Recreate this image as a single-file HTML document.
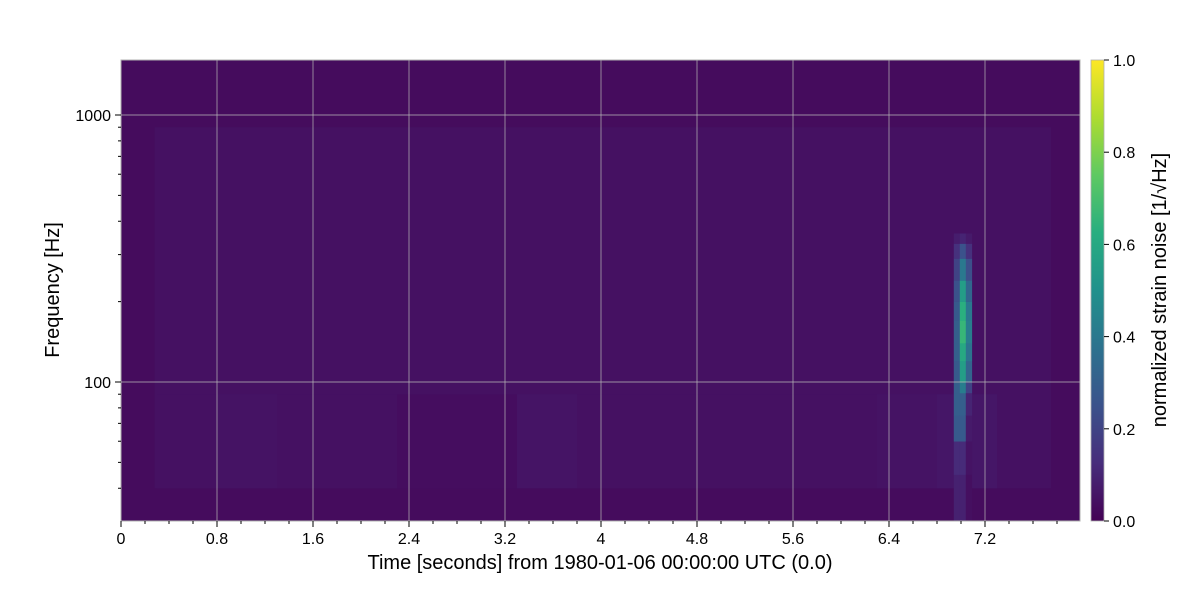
<!DOCTYPE html>
<html><head><meta charset="utf-8"><style>
body{margin:0;background:#fff;}
svg{display:block;font-family:"Liberation Sans",sans-serif;}
</style></head><body>
<svg id="chart" width="1200" height="600" viewBox="0 0 1200 600">
<defs>
<linearGradient id="vir" x1="0" y1="1" x2="0" y2="0">
<stop offset="0" stop-color="#440154"/><stop offset="0.125" stop-color="#472d7b"/><stop offset="0.25" stop-color="#3b528b"/><stop offset="0.375" stop-color="#2c728e"/><stop offset="0.5" stop-color="#21918c"/><stop offset="0.625" stop-color="#28ae80"/><stop offset="0.75" stop-color="#5ec962"/><stop offset="0.875" stop-color="#addc30"/><stop offset="1" stop-color="#fde725"/>
</linearGradient>
<clipPath id="clip"><rect x="121" y="60" width="959" height="461"/></clipPath>
</defs>
<g id="heat" clip-path="url(#clip)"></g>
<g id="grid"></g>
<rect x="121" y="60" width="959" height="461" fill="none" stroke="#b0b0b0" stroke-width="1"/>
<g id="axes"></g>
<text x="600" y="569" text-anchor="middle" font-size="20" fill="#000">Time [seconds] from 1980-01-06 00:00:00 UTC (0.0)</text>
<text transform="translate(59,290) rotate(-90)" text-anchor="middle" font-size="20" fill="#000">Frequency [Hz]</text>
<rect x="1091" y="60" width="13" height="461" fill="url(#vir)" stroke="#b0b0b0" stroke-width="0.8"/>
<g id="cbar"></g>
<text transform="translate(1166,290) rotate(-90)" text-anchor="middle" font-size="20" fill="#000">normalized strain noise [1/√Hz]</text>
</svg>
<script>
const xTicks=[0,0.8,1.6,2.4,3.2,4,4.8,5.6,6.4,7.2];
const xTickLabels=["0","0.8","1.6","2.4","3.2","4","4.8","5.6","6.4","7.2"];
const yTicks=[100,1000];
const yTickLabels=["100","1000"];
const cTicks=[0,0.2,0.4,0.6,0.8,1.0];
const cTickLabels=["0.0","0.2","0.4","0.6","0.8","1.0"];
// low-frequency band (40-90 Hz) level per 0.5 s time bin
const lowBandTimes=[0.3,0.8,1.3,1.8,2.3,2.8,3.3,3.8,4.3,4.8,5.3,5.8,6.3,6.8];
const lowBandValues=[0.045,0.05,0.045,0.045,0.035,0.035,0.055,0.045,0.045,0.045,0.045,0.045,0.05,0.06];
// spike columns
const spikeTimes=[6.94,6.99,7.04];
const spikeFreqs=[30,45,60,75,91,100,120,140,170,200,240,290,330,360];
const spikeCol0=[0.09,0.12,0.28,0.3,0.3,0.28,0.3,0.3,0.28,0.25,0.2,0.14,0.08];
const spikeCol1=[0.09,0.12,0.28,0.3,0.42,0.55,0.6,0.66,0.63,0.55,0.4,0.25,0.1];
const spikeCol2=[0.04,0.05,0.07,0.1,0.2,0.32,0.38,0.42,0.4,0.33,0.24,0.14,0.07];

const X0=121,PW=960,Ylog=f=>382-(Math.log10(f)-2)*267;
const xs=t=>X0+t*PW/8;
const stops=["#440154","#472d7b","#3b528b","#2c728e","#21918c","#28ae80","#5ec962","#addc30","#fde725"];
function hex(c){return [1,3,5].map(i=>parseInt(c.substr(i,2),16));}
function vir(v){v=Math.max(0,Math.min(1,v));const p=v*8,i=Math.min(7,Math.floor(p)),f=p-i;const a=hex(stops[i]),b=hex(stops[i+1]);return "rgb("+a.map((x,k)=>Math.round(x+(b[k]-x)*f)).join(",")+")";}
const NS="http://www.w3.org/2000/svg";
function el(tag,attrs,parent){const e=document.createElementNS(NS,tag);for(const k in attrs)e.setAttribute(k,attrs[k]);parent.appendChild(e);return e;}
const heat=document.getElementById("heat"),grid=document.getElementById("grid"),axes=document.getElementById("axes"),cbar=document.getElementById("cbar");
let r=el("rect",{x:121,y:60,width:960,height:461,fill:vir(0.03)},heat);


r=el("rect",{x:xs(0.28),y:Ylog(900),width:xs(7.75)-xs(0.28),height:Ylog(40)-Ylog(900),fill:vir(0.045)},heat);


lowBandTimes.forEach((t,i)=>{
 const c=el("rect",{x:xs(t),y:Ylog(90),width:xs(0.5)-xs(0),height:Ylog(40)-Ylog(90),fill:vir(lowBandValues[i])},heat);
 
 
});
[spikeCol0,spikeCol1,spikeCol2].forEach((col,j)=>{
 col.forEach((v,i)=>{
  const c=el("rect",{x:xs(spikeTimes[j]),y:Ylog(spikeFreqs[i+1]),width:xs(0.05)-xs(0)+0.3,height:Ylog(spikeFreqs[i])-Ylog(spikeFreqs[i+1])+0.3,fill:vir(v)},heat);
  
  
 });
});
xTicks.forEach((t,i)=>{
 const x=xs(t);
 if(t>0){const g=el("line",{x1:x,x2:x,y1:60,y2:521,stroke:"#b8b8b8","stroke-width":0.7},grid);}
 el("line",{x1:x,x2:x,y1:521,y2:527,stroke:"#000"},axes);
 const tx=el("text",{x:x,y:544,"text-anchor":"middle","font-size":16},axes);tx.textContent=xTickLabels[i];
 
 
});
for(let t=0.2;t<8;t+=0.2){const x=xs(t);el("line",{x1:x,x2:x,y1:521,y2:524,stroke:"#000"},axes);}
yTicks.forEach((f,i)=>{
 const y=Ylog(f);
 const g=el("line",{x1:121,x2:1080,y1:y,y2:y,stroke:"#b8b8b8","stroke-width":0.7},grid);
 
 
 el("line",{x1:115,x2:121,y1:y,y2:y,stroke:"#000"},axes);
 const tx=el("text",{x:111,y:y+6,"text-anchor":"end","font-size":16},axes);tx.textContent=yTickLabels[i];
 
 
});
[40,50,60,70,80,90,200,300,400,500,600,700,800,900].forEach(f=>{const y=Ylog(f);if(y<=521&&y>=60)el("line",{x1:118,x2:121,y1:y,y2:y,stroke:"#000"},axes);});
cTicks.forEach((v,i)=>{
 const y=521-v*461;
 el("line",{x1:1104,x2:1109,y1:y,y2:y,stroke:"#000"},cbar);
 const tx=el("text",{x:1113,y:y+6,"font-size":16},cbar);tx.textContent=cTickLabels[i];
 
 
});
</script>
</body></html>
